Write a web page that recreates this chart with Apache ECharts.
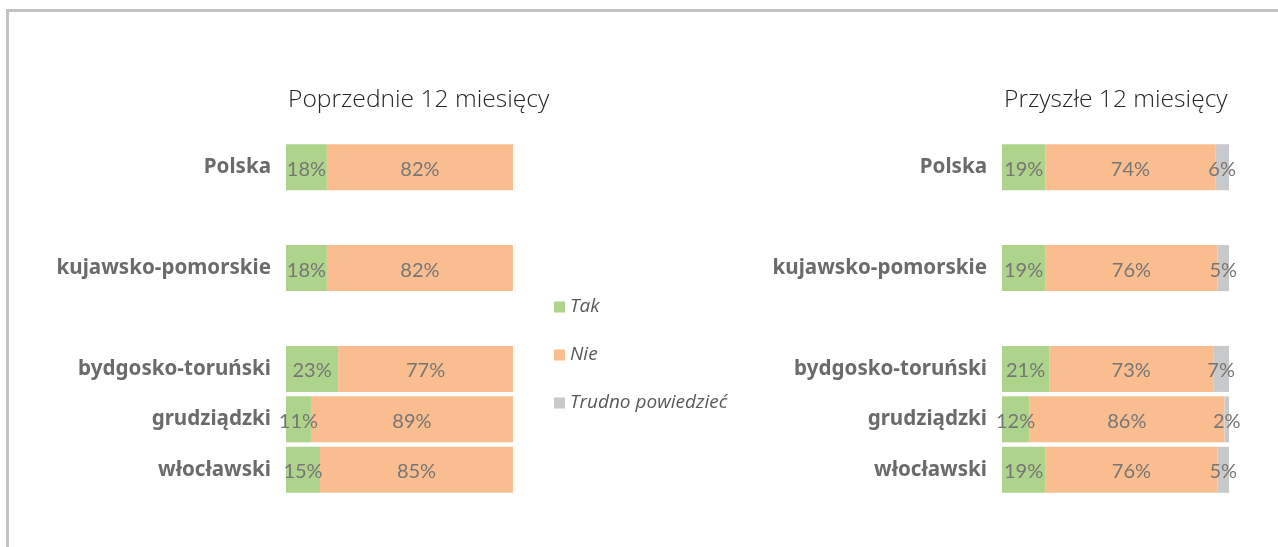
<!DOCTYPE html>
<html>
<head>
<meta charset="utf-8">
<script src="https://cdn.jsdelivr.net/npm/echarts@6/dist/echarts.min.js"></script>
<style>
  html, body { margin: 0; padding: 0; background: #fff; }
  #main { width: 1278px; height: 547px; }
  .frame {
    position: absolute;
    left: 6px;
    top: 9px;
    right: 0;
    bottom: 0;
    border-top: 3px solid #c3c3c3;
    border-left: 3px solid #c3c3c3;
    pointer-events: none;
  }
</style>
</head>
<body>
<div id="main"></div>
<div class="frame"></div>
<script>
  // kategorie (puste pozycje = odstepy miedzy grupami)
  const categories = ['Polska', '', 'kujawsko-pomorskie', '', 'bydgosko-toruński', 'grudziądzki', 'włocławski'];

  // Poprzednie 12 miesiecy
  const prevTak = [18, null, 18, null, 23, 11, 15];
  const prevNie = [82, null, 82, null, 77, 89, 85];

  // Przyszle 12 miesiecy
  const nextTak = [19, null, 19, null, 21, 12, 19];
  const nextNie = [74, null, 76, null, 73, 86, 76];
  const nextTrudno = [6, null, 5, null, 7, 2, 5];

  const seriesNames = ['Tak', 'Nie', 'Trudno powiedzieć'];
  const colors = ['#aed48b', '#fabd8f', '#c8c9cb'];

  // 100% skumulowane - normalizacja do sumy wiersza, etykieta pokazuje oryginal
  function toPct(rows, idx) {
    return rows[idx].map(function (v, i) {
      if (v == null) return null;
      let sum = 0;
      rows.forEach(function (r) { sum += r[i]; });
      return { value: v / sum * 100, label: { formatter: v + '%' } };
    });
  }

  const prevRows = [prevTak, prevNie];
  const nextRows = [nextTak, nextNie, nextTrudno];

  const labelStyle = {
    show: true,
    position: 'inside',
    offset: [0, 2],
    color: '#767676',
    fontFamily: 'Lato',
    fontSize: 20
  };

  function mkSeries(rows, axisIdx, stack) {
    return rows.map(function (r, k) {
      return {
        name: seriesNames[k],
        type: 'bar',
        stack: stack,
        xAxisIndex: axisIdx,
        yAxisIndex: axisIdx,
        barWidth: 46,
        itemStyle: { color: colors[k] },
        label: labelStyle,
        data: toPct(rows, k)
      };
    });
  }

  const chart = echarts.init(document.getElementById('main'));

  function yAx(gridIndex) {
    return {
      type: 'category',
      gridIndex: gridIndex,
      inverse: true,
      data: categories,
      axisLine: { show: false },
      axisTick: { show: false },
      axisLabel: {
        margin: 15,
        padding: [8, 0, 0, 0],
        color: '#6b6b6b',
        fontFamily: 'Noto Sans',
        fontWeight: 'bold',
        fontSize: 20.6
      }
    };
  }

  function xAx(gridIndex) {
    return {
      type: 'value',
      gridIndex: gridIndex,
      min: 0,
      max: 100,
      show: false,
      splitLine: { show: false }
    };
  }

  chart.setOption({
    animation: false,
    color: colors,
    title: [
      {
        text: 'Poprzednie 12 miesięcy',
        left: 283,
        top: 82,
        textStyle: { fontFamily: 'Open Sans', fontWeight: 300, fontSize: 24.6, color: '#262626' }
      },
      {
        text: 'Przyszłe 12 miesięcy',
        left: 999,
        top: 82,
        textStyle: { fontFamily: 'Open Sans', fontWeight: 300, fontSize: 24.6, color: '#262626' }
      }
    ],
    legend: {
      data: seriesNames,
      orient: 'vertical',
      left: 549,
      top: 291,
      itemWidth: 11,
      itemHeight: 11,
      itemGap: 26,
      icon: 'rect',
      textStyle: {
        fontFamily: 'Open Sans',
        fontStyle: 'italic',
        fontSize: 19,
        lineHeight: 22,
        color: '#595959'
      }
    },
    grid: [
      { left: 286, width: 227, top: 142, height: 353 },
      { left: 1002, width: 227, top: 142, height: 353 }
    ],
    xAxis: [xAx(0), xAx(1)],
    yAxis: [yAx(0), yAx(1)],
    series: mkSeries(prevRows, 0, 'prev').concat(mkSeries(nextRows, 1, 'next'))
  });
</script>
</body>
</html>
